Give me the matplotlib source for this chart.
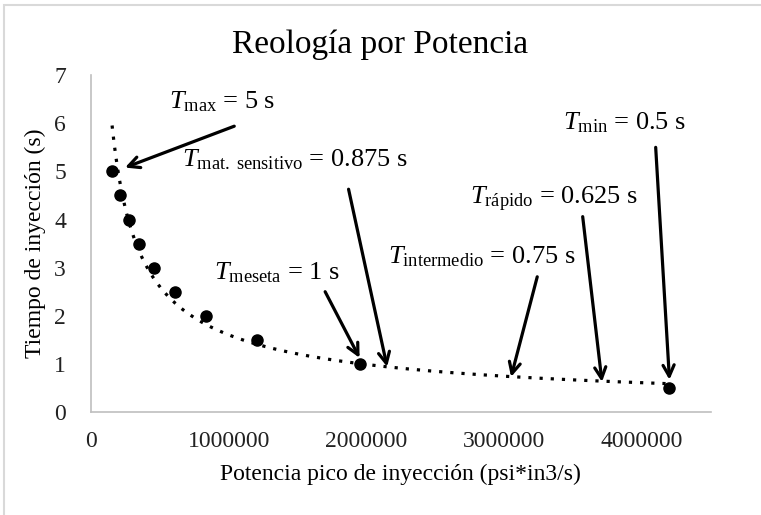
import numpy as np
import matplotlib
matplotlib.use("Agg")
import matplotlib.pyplot as plt
from matplotlib.patches import Rectangle

plt.rcParams['font.family'] = ['Liberation Serif', 'DejaVu Serif']
plt.rcParams['mathtext.fontset'] = 'custom'
plt.rcParams['mathtext.rm'] = 'Liberation Serif'
plt.rcParams['mathtext.it'] = 'Liberation Serif:italic'

# datos
potencia = [153000, 210000, 276000, 349000, 458000, 611000, 836000, 1207000, 1950000, 4200000]
tiempo = [5, 4.5, 4, 3.5, 3, 2.5, 2, 1.5, 1, 0.5]

x_ticks = [0, 1000000, 2000000, 3000000, 4000000]
y_ticks = [0, 1, 2, 3, 4, 5, 6, 7]

# etiquetas: texto, posicion del texto, cola y punta de la flecha (datos)
etiquetas = [
    (r"$T_{\mathrm{max}}$ = 5 s", (953000, 6.44), (1040000, 5.94), (247000, 5.08)),
    (r"$T_{\mathrm{mat.\ sensitivo}}$ = 0.875 s", (1480000, 5.25), (1870000, 4.63), (2150000, 0.94)),
    (r"$T_{\mathrm{meseta}}$ = 1 s", (1350000, 2.90), (1700000, 2.5), (1950000, 1.125)),
    (r"$T_{\mathrm{intermedio}}$ = 0.75 s", (2840000, 3.23), (3240000, 2.81), (3050000, 0.73)),
    (r"$T_{\mathrm{rápido}}$ = 0.625 s", (3360000, 4.42), (3570000, 4.06), (3710000, 0.625)),
    (r"$T_{\mathrm{min}}$ = 0.5 s", (3870000, 6.02), (4100000, 5.5), (4200000, 0.67)),
]

fig = plt.figure(figsize=(7.61, 5.15), dpi=100)
ax = fig.add_axes([0.1196, 0.2, 0.8144, 0.654])

# linea de tendencia potencial (ajuste log-log)
b, a = np.polyfit(np.log(potencia), np.log(tiempo), 1)
xs = np.linspace(min(potencia), max(potencia), 300)
ax.plot(xs, np.exp(a) * xs ** b, color="black", lw=2.3, linestyle=(0, (1, 2.5)))

ax.plot(potencia, tiempo, "o", color="black", markersize=8, zorder=3)

for texto, pos, cola, punta in etiquetas:
    ax.text(pos[0], pos[1], texto, fontsize=19, ha="center", va="center")
    ax.annotate("", xy=punta, xytext=cola,
                arrowprops=dict(arrowstyle="->,head_length=0.8,head_width=0.4",
                                color="black", lw=2.3, shrinkA=0, shrinkB=0))

ax.set_xlim(0, 4500000)
ax.set_ylim(0, 7)
ax.set_xticks(x_ticks)
ax.set_xticklabels([str(x) for x in x_ticks])
ax.set_yticks(y_ticks)
ax.set_yticklabels([str(y) for y in y_ticks])
ax.tick_params(length=0, labelsize=17, colors="#222222")
ax.tick_params(axis="x", pad=14)
ax.tick_params(axis="y", pad=18)

for side in ["top", "right"]:
    ax.spines[side].set_visible(False)
for side in ["left", "bottom"]:
    ax.spines[side].set_color("#bfbfbf")
    ax.spines[side].set_linewidth(1.2)

fig.text(380 / 761, 1 - 45 / 515, "Reología por Potencia", fontsize=24,
         ha="center", va="center")
ax.set_xlabel("Potencia pico de inyección (psi*in3/s)", fontsize=17, labelpad=8)
ax.set_ylabel("Tiempo de inyección (s)", fontsize=17, labelpad=6)

fig.patches.append(Rectangle((4 / 761, -0.1), 2, 1.1 - 5 / 515, transform=fig.transFigure,
                             fill=False, edgecolor="#d9d9d9", lw=1.5))

fig.savefig("out.png", dpi=100)
